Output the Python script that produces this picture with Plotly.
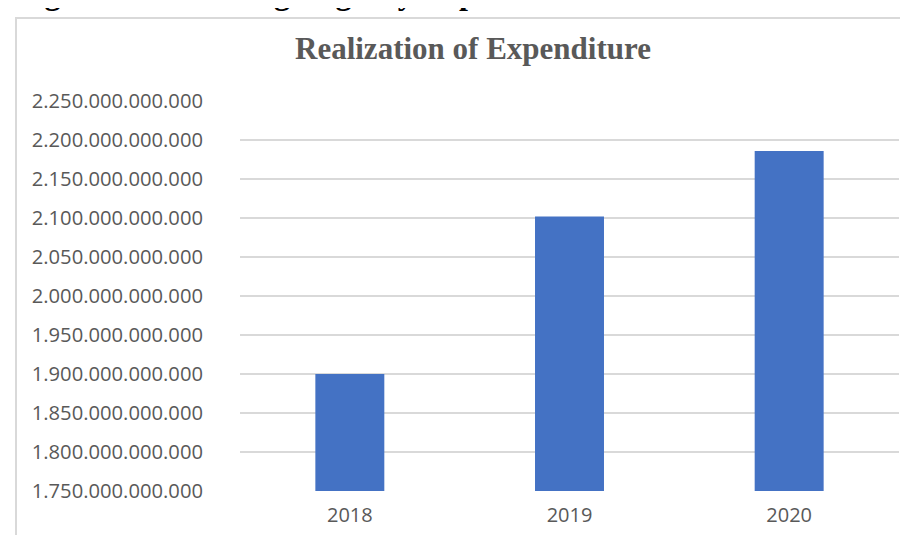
import plotly.graph_objects as go

years = ["2018", "2019", "2020"]
expenditure = [1_900_000_000_000, 2_102_000_000_000, 2_186_000_000_000]

y_tick_values = [1.75e12, 1.80e12, 1.85e12, 1.90e12, 1.95e12, 2.00e12,
                 2.05e12, 2.10e12, 2.15e12, 2.20e12, 2.25e12]
y_tick_labels = ["1.750.000.000.000", "1.800.000.000.000", "1.850.000.000.000",
                 "1.900.000.000.000", "1.950.000.000.000", "2.000.000.000.000",
                 "2.050.000.000.000", "2.100.000.000.000", "2.150.000.000.000",
                 "2.200.000.000.000", "2.250.000.000.000"]

chart_title = "Realization of Expenditure"
caption = "Figure 1. Sumedang Regency Expenditure Realization 2018-2020"

W, H = 908, 535
L, R, T, B = 232, 17, 93, 52
pw, ph = W - L - R, H - T - B

def px_x(x):
    return (x - L) / pw

def px_y(y):
    return (H - B - y) / ph

fig = go.Figure()
fig.add_trace(go.Bar(x=years, y=expenditure, marker=dict(color="#4472C4", line=dict(width=0)),
                     hoverinfo="x+y"))

fig.update_layout(
    width=W, height=H,
    margin=dict(l=L, r=R, t=T, b=B),
    paper_bgcolor="white", plot_bgcolor="white",
    bargap=0.686,
    showlegend=False,
    font=dict(family="Open Sans", color="#595959"),
    xaxis=dict(showgrid=False, showline=False, zeroline=False, ticks="",
               tickfont=dict(family="Open Sans", size=20, color="#595959"),
               ticklabelstandoff=10),
    yaxis=dict(range=[1.75e12, 2.25e12], tickvals=y_tick_values, ticktext=y_tick_labels,
               showgrid=True, gridcolor="#D9D9D9", gridwidth=1.5,
               zeroline=False, showline=False, ticks="",
               tickfont=dict(family="Open Sans", size=20.2, color="#595959"),
               ticklabelstandoff=36),
    shapes=[dict(type="rect", xref="paper", yref="paper",
                 x0=px_x(8), x1=px_x(W + 20), y0=px_y(H + 20), y1=px_y(10),
                 line=dict(color="#D9D9D9", width=2), fillcolor="rgba(0,0,0,0)", layer="below")],
    annotations=[
        dict(text="<b>" + chart_title + "</b>", xref="paper", yref="paper",
             x=px_x(464.5), y=px_y(40), xanchor="center", yanchor="middle", showarrow=False,
             font=dict(family="Liberation Serif", size=31, color="#595959")),
        dict(text="<b>" + caption + "</b>", xref="paper", yref="paper",
             x=px_x(6), y=px_y(5), xanchor="left", yanchor="bottom", showarrow=False,
             font=dict(family="Liberation Serif", size=32, color="#000000")),
    ],
)

fig.write_html("out.html")
